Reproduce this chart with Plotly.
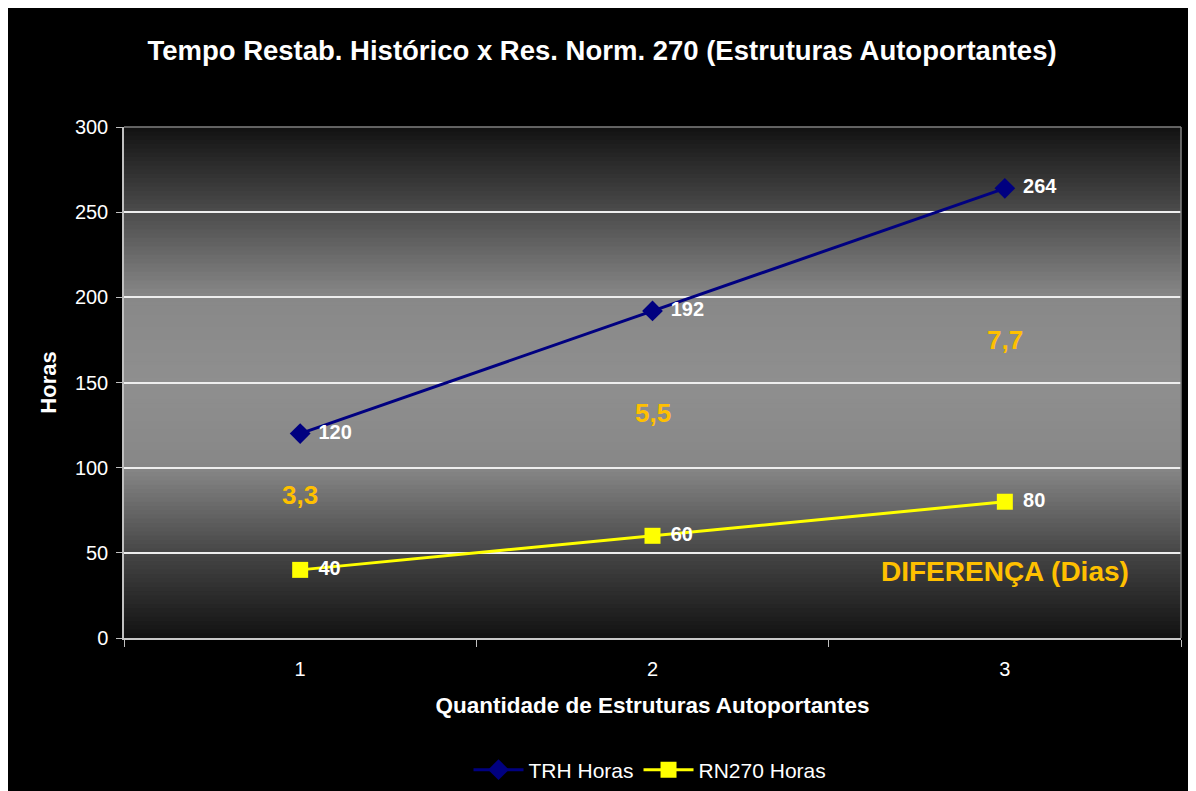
import plotly.graph_objects as go

# ---- data ----
categories = ["1", "2", "3"]
trh_horas = [120, 192, 264]
rn270_horas = [40, 60, 80]
diff_labels = ["3,3", "5,5", "7,7"]
diff_label_y = [84, 132, 175]

title_text = "Tempo Restab. Histórico x Res. Norm. 270 (Estruturas Autoportantes)"
x_title = "Quantidade de Estruturas Autoportantes"
y_title = "Horas"
y_ticks = [0, 50, 100, 150, 200, 250, 300]

FONT = "Liberation Sans, Arial, sans-serif"
OFF = 8  # page body margin
W, H = 1188, 783
ML, MR, MT, MB = 116, 15, 119, 153
PW, PH = W - ML - MR, H - MT - MB


def px_x(px):
    return (px - OFF - ML) / PW


def px_y(py):
    return (H - MB - (py - OFF)) / PH


fig = go.Figure()
fig.add_trace(go.Scatter(
    x=categories, y=trh_horas, name="TRH Horas", mode="lines+markers+text",
    line=dict(color="#000080", width=3),
    marker=dict(symbol="diamond", size=16, color="#000080"),
    text=[" \u200a" + str(v) for v in trh_horas], textposition="middle right",
    textfont=dict(family=FONT, size=20, color="white", weight="bold"),
    cliponaxis=False,
))
fig.add_trace(go.Scatter(
    x=categories, y=rn270_horas, name="RN270 Horas", mode="lines+markers+text",
    line=dict(color="#FFFF00", width=3),
    marker=dict(symbol="square", size=16, color="#FFFF00"),
    text=[" \u200a" + str(v) for v in rn270_horas], textposition="middle right",
    textfont=dict(family=FONT, size=20, color="white", weight="bold"),
    cliponaxis=False,
))

shapes = []
# vertical gradient of the plot area
stops = [(0, 17), (50, 70), (100, 135), (150, 143), (200, 136), (250, 76), (300, 18)]
N = 120
for i in range(N):
    v0 = 300 * i / N
    v1 = 300 * (i + 1) / N
    vm = (v0 + v1) / 2
    for (a, ga), (b, gb) in zip(stops[:-1], stops[1:]):
        if a <= vm <= b:
            g = int(round(ga + (gb - ga) * (vm - a) / (b - a)))
            break
    shapes.append(dict(type="rect", xref="paper", yref="paper",
                       x0=0, x1=1, y0=v0 / 300, y1=min(1, v1 / 300 + 0.002),
                       fillcolor=f"rgb({g},{g},{g})", line=dict(width=0), layer="below"))
# top/right border of plot area
shapes.append(dict(type="line", xref="paper", yref="paper", x0=0, x1=1, y0=1, y1=1,
                   line=dict(color="#808080", width=1.5), layer="above"))
shapes.append(dict(type="line", xref="paper", yref="paper", x0=1, x1=1, y0=0, y1=1,
                   line=dict(color="#808080", width=1.5), layer="above"))

annotations = []
for i, (lab, yy) in enumerate(zip(diff_labels, diff_label_y)):
    annotations.append(dict(x=i, y=yy, xref="x", yref="y", text=lab, showarrow=False,
                            font=dict(family=FONT, size=26, color="#FFC000", weight="bold")))
annotations.append(dict(x=2, y=39, xref="x", yref="y", text="DIFERENÇA (Dias)", showarrow=False,
                        font=dict(family=FONT, size=28, color="#FFC000", weight="bold")))

fig.update_layout(
    width=W, height=H,
    margin=dict(l=ML, r=MR, t=MT, b=MB, autoexpand=False),
    paper_bgcolor="black",
    plot_bgcolor="rgba(0,0,0,0)",
    font=dict(family=FONT, color="white"),
    title=dict(text=title_text, x=(602 - OFF) / W, xref="container", xanchor="center",
               y=1 - (50 - OFF) / H, yref="container", yanchor="middle",
               font=dict(family=FONT, size=27.5, color="white", weight="bold")),
    shapes=shapes,
    annotations=annotations,
    showlegend=True,
    legend=dict(orientation="h", x=px_x(650), xanchor="center", y=px_y(770), yanchor="middle",
                font=dict(family=FONT, size=21, color="white"), bgcolor="rgba(0,0,0,0)",
                traceorder="normal", itemwidth=50),
    xaxis=dict(
        type="category", range=[-0.5, 2.5],
        tickson="boundaries", ticks="outside", ticklen=7, tickcolor="#c0c0c0", tickwidth=1,
        showgrid=False, zeroline=False,
        showline=True, linecolor="#c8c8c8", linewidth=2,
        tickfont=dict(family=FONT, size=20, color="white"),
        ticklabelstandoff=12,
        title=dict(text=x_title, standoff=18,
                   font=dict(family=FONT, size=22.5, color="white", weight="bold")),
    ),
    yaxis=dict(
        range=[0, 300], tickvals=y_ticks,
        ticks="outside", ticklen=6, tickcolor="#c0c0c0", tickwidth=1,
        showgrid=True, gridcolor="#eeeeee", gridwidth=1.5,
        zeroline=False,
        showline=True, linecolor="#c0c0c0", linewidth=1.5,
        tickfont=dict(family=FONT, size=20, color="white"),
        ticklabelstandoff=4,
        title=dict(text=y_title, standoff=12,
                   font=dict(family=FONT, size=22, color="white", weight="bold")),
    ),
)

fig.write_html("out.html")
